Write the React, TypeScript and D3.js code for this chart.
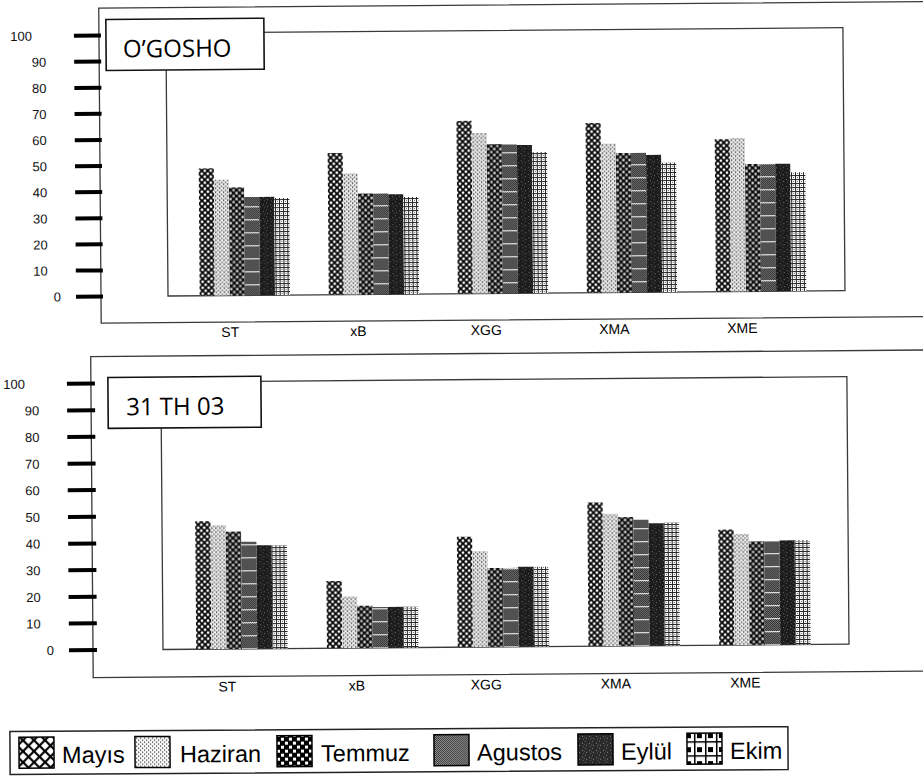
import React from "react";
import * as d3 from "d3";

// ---------- data ----------
const categories = ["ST", "xB", "XGG", "XMA", "XME"];
const seriesNames = ["Mayıs", "Haziran", "Temmuz", "Agustos", "Eylül", "Ekim"];
const yTickValues = [0, 10, 20, 30, 40, 50, 60, 70, 80, 90, 100];

// O'GOSHO panel (values per month, across categories)
const ogMayis = [48.8, 54.3, 66.2, 65.0, 58.4];
const ogHaziran = [44.4, 46.4, 61.5, 57.0, 58.8];
const ogTemmuz = [41.4, 38.7, 57.2, 53.4, 48.8];
const ogAgustos = [37.7, 38.7, 57.0, 53.4, 48.8];
const ogEylul = [37.7, 38.3, 56.8, 52.6, 48.8];
const ogEkim = [37.2, 37.2, 54.0, 49.6, 45.5];

// 31 TH 03 panel
const thMayis = [48.0, 25.2, 41.4, 53.9, 43.3];
const thHaziran = [46.5, 19.4, 36.0, 49.6, 41.7];
const thTemmuz = [44.0, 15.8, 29.6, 48.3, 38.8];
const thAgustos = [40.2, 15.3, 29.6, 47.3, 38.8];
const thEylul = [38.8, 15.3, 30.0, 45.9, 39.1];
const thEkim = [38.8, 15.3, 30.0, 46.2, 39.2];

const ogoshoSeries = [ogMayis, ogHaziran, ogTemmuz, ogAgustos, ogEylul, ogEkim];
const thSeries = [thMayis, thHaziran, thTemmuz, thAgustos, thEylul, thEkim];

// ---------- layout ----------
const ROT = -0.45;
const patternIds = ["pMayis", "pHaziran", "pTemmuz", "pAgustos", "pEylul", "pEkim"];
const legendIds = ["lMayis", "lHaziran", "lTemmuz", "lAgustos", "lEylul", "lEkim"];

const topCfg = {
  title: "O\u2019GOSHO",
  y0: 296, y100: 35,
  innerLeft: 168, innerRight: 845, innerTop: 33,
  outerLeft: 101, outerTop: 7.5, outerBottom: 322.5, outerRight: 940,
  tickX1: 76, tickX2: 103, tickLabelX: 48,
  box: { x: 108, y: 19, w: 158, h: 51 }, titleX: 125, titleY: 57,
  groupRange: [161, 845], labelRange: [230, 742], labelY: 337.5,
};
const botCfg = {
  title: "31 TH 03",
  y0: 649.5, y100: 383,
  innerLeft: 163, innerRight: 849, innerTop: 382,
  outerLeft: 93, outerTop: 356, outerBottom: 677, outerRight: 940,
  tickX1: 69, tickX2: 97, tickLabelX: 41,
  box: { x: 110, y: 377, w: 153, h: 51 }, titleX: 128, titleY: 415,
  groupRange: [157, 850], labelRange: [227, 745], labelY: 692,
};

const legendSwatchX = [19, 135, 277, 434, 578, 687];
const legendTextX = [62, 180, 321, 477, 621, 730];

const FONT = "'Liberation Sans', Arial, sans-serif";

function Patterns() {
  return (
    <defs>
      {/* Mayıs: diagonal lattice */}
      <pattern id="pMayis" width={6} height={6} patternUnits="userSpaceOnUse">
        <rect width={6} height={6} fill="#fff" />
        <path d="M0,0 L6,6 M6,0 L0,6 M-1,5 L1,7 M5,-1 L7,1 M-1,1 L1,-1 M5,7 L7,5" stroke="#000" strokeWidth={1.7} />
      </pattern>
      <pattern id="lMayis" width={11} height={11} patternUnits="userSpaceOnUse" x={1} y={1}>
        <rect width={11} height={11} fill="#fff" />
        <path d="M0,0 L11,11 M11,0 L0,11" stroke="#000" strokeWidth={2.2} />
      </pattern>
      {/* Haziran: light dots */}
      <pattern id="pHaziran" width={4} height={4} patternUnits="userSpaceOnUse">
        <rect width={4} height={4} fill="#f2f2f2" />
        <rect x={0} y={0} width={1.3} height={1.3} fill="#222" />
        <rect x={2} y={2} width={1.3} height={1.3} fill="#555" />
        <rect x={0} y={3} width={4} height={0.5} fill="#bbb" />
      </pattern>
      <pattern id="lHaziran" width={4} height={4} patternUnits="userSpaceOnUse">
        <rect width={4} height={4} fill="#fff" />
        <rect x={0} y={0} width={1.2} height={1.2} fill="#222" />
        <rect x={2} y={2} width={1.2} height={1.2} fill="#222" />
      </pattern>
      {/* Temmuz: coarse checker, dark */}
      <pattern id="pTemmuz" width={6} height={6} patternUnits="userSpaceOnUse">
        <rect width={6} height={6} fill="#111" />
        <rect x={0.5} y={0.5} width={2.2} height={2.2} fill="#fff" />
        <rect x={3.5} y={3.5} width={2.2} height={2.2} fill="#ddd" />
      </pattern>
      <pattern id="lTemmuz" width={8} height={8} patternUnits="userSpaceOnUse">
        <rect width={8} height={8} fill="#000" />
        <rect x={1} y={1} width={3} height={3} fill="#fff" />
        <rect x={5} y={5} width={3} height={3} fill="#fff" />
      </pattern>
      {/* Agustos: fine dense dots with light rows */}
      <pattern id="pAgustos" width={2} height={13} patternUnits="userSpaceOnUse">
        <rect width={2} height={13} fill="#888" />
        <path d="M0,0h1v1h-1z M1,1h1v1h-1z M0,2h1v1h-1z M1,3h1v1h-1z M0,4h1v1h-1z M1,5h1v1h-1z M0,6h1v1h-1z M1,7h1v1h-1z M0,8h1v1h-1z M1,9h1v1h-1z M0,10h1v1h-1z M1,11h1v1h-1z" fill="#1a1a1a" />
        <rect x={0} y={12} width={2} height={1} fill="#fff" />
      </pattern>
      <pattern id="lAgustos" width={2} height={2} patternUnits="userSpaceOnUse">
        <rect width={2} height={2} fill="#bbb" />
        <rect x={0} y={0} width={1} height={1} fill="#111" />
        <rect x={1} y={1} width={1} height={1} fill="#111" />
      </pattern>
      {/* Eylül: dark mottled */}
      <pattern id="pEylul" width={7} height={7} patternUnits="userSpaceOnUse">
        <rect width={7} height={7} fill="#1c1c1c" />
        <rect x={1} y={2} width={1} height={1} fill="#6a6a6a" />
        <rect x={4} y={0} width={1} height={1} fill="#555" />
        <rect x={5} y={4} width={1} height={1} fill="#707070" />
        <rect x={2} y={5} width={1} height={1} fill="#505050" />
        <rect x={3} y={3} width={1} height={1} fill="#3a3a3a" />
      </pattern>
      <pattern id="lEylul" width={7} height={7} patternUnits="userSpaceOnUse">
        <rect width={7} height={7} fill="#2a2a2a" />
        <rect x={1} y={2} width={1} height={1} fill="#888" />
        <rect x={4} y={0} width={1} height={1} fill="#777" />
        <rect x={5} y={4} width={1} height={1} fill="#8a8a8a" />
        <rect x={2} y={5} width={1} height={1} fill="#666" />
        <rect x={3} y={3} width={1} height={1} fill="#555" />
      </pattern>
      {/* Ekim: small grid */}
      <pattern id="pEkim" width={4} height={4} patternUnits="userSpaceOnUse">
        <rect width={4} height={4} fill="#fff" />
        <rect x={0} y={0} width={4} height={1} fill="#222" />
        <rect x={0} y={0} width={1} height={4} fill="#222" />
        <rect x={2} y={2} width={1} height={1} fill="#666" />
      </pattern>
      <pattern id="lEkim" width={11} height={14} patternUnits="userSpaceOnUse" x={1} y={1}>
        <rect width={11} height={14} fill="#fff" />
        <rect x={0} y={0} width={11} height={1.5} fill="#000" />
        <rect x={0} y={0} width={1.5} height={14} fill="#000" />
        <rect x={3} y={6} width={5} height={5} fill="#000" />
      </pattern>
    </defs>
  );
}

function Panel({ cfg, data }: { cfg: any; data: number[][] }) {
  const y = d3.scaleLinear().domain([0, 100]).range([cfg.y0, cfg.y100]);
  const x0 = d3
    .scaleBand<string>()
    .domain(categories)
    .range(cfg.groupRange)
    .paddingInner(0.3)
    .paddingOuter(0.3);
  const x1 = d3.scaleBand<string>().domain(seriesNames).range([0, x0.bandwidth()]);
  const lx = d3.scalePoint<string>().domain(categories).range(cfg.labelRange);
  const frame = "#3a3a3a";
  return (
    <g transform={`rotate(${ROT} ${cfg.innerLeft} ${cfg.y0})`}>
      <path
        d={`M${cfg.outerRight},${cfg.outerTop} H${cfg.outerLeft} V${cfg.outerBottom} H${cfg.outerRight}`}
        fill="none"
        stroke={frame}
        strokeWidth={1.3}
      />
      <rect
        x={cfg.innerLeft}
        y={cfg.innerTop}
        width={cfg.innerRight - cfg.innerLeft}
        height={cfg.y0 - cfg.innerTop}
        fill="none"
        stroke={frame}
        strokeWidth={1.3}
      />
      {categories.map((c, ci) => (
        <g key={c} transform={`translate(${x0(c)},0)`}>
          {seriesNames.map((s, si) => {
            const v = data[si][ci];
            return (
              <rect
                key={s}
                x={x1(s)}
                y={y(v)}
                width={x1.bandwidth()}
                height={y(0) - y(v)}
                fill={`url(#${patternIds[si]})`}
              />
            );
          })}
        </g>
      ))}
      {yTickValues.map((t) => (
        <g key={t}>
          <line x1={cfg.tickX1} x2={cfg.tickX2} y1={y(t)} y2={y(t)} stroke="#000" strokeWidth={4} />
          <text
            x={cfg.tickLabelX + (t === 100 ? -14 : t === 0 ? 13 : 0)}
            y={y(t)}
            dy="0.36em"
            textAnchor="end"
            fontFamily={FONT}
            fontSize={13}
            fill="#111"
          >
            {t}
          </text>
        </g>
      ))}
      <rect
        x={cfg.box.x}
        y={cfg.box.y}
        width={cfg.box.w}
        height={cfg.box.h}
        fill="#fff"
        stroke="#111"
        strokeWidth={1.6}
      />
      <text x={cfg.titleX} y={cfg.titleY} fontFamily="'Open Sans', 'Noto Sans', sans-serif" fontSize={24} fill="#000">
        {cfg.title}
      </text>
      {categories.map((c) => (
        <text key={c} x={lx(c)} y={cfg.labelY} textAnchor="middle" fontFamily={FONT} fontSize={14} fill="#000">
          {c}
        </text>
      ))}
    </g>
  );
}

function Legend() {
  const top = 729;
  const h = 43;
  return (
    <g transform={`rotate(-0.35 400 750)`}>
      <rect x={10} y={top} width={778} height={h} fill="#fff" stroke="#222" strokeWidth={1.5} />
      {seriesNames.map((s, i) => (
        <g key={s}>
          <rect
            x={legendSwatchX[i]}
            y={top + 6}
            width={35}
            height={31}
            fill={`url(#${legendIds[i]})`}
            stroke="#000"
            strokeWidth={1.5}
          />
          <text x={legendTextX[i]} y={top + 32} fontFamily={FONT} fontSize={23.5} fill="#000">
            {s}
          </text>
        </g>
      ))}
    </g>
  );
}

export default function App() {
  return (
    <svg
      width={923}
      height={780}
      viewBox="0 0 923 780"
      style={{ position: "absolute", left: 0, top: 0, display: "block" }}
    >
      <Patterns />
      <rect width={923} height={780} fill="#fff" />
      <Panel cfg={topCfg} data={ogoshoSeries} />
      <Panel cfg={botCfg} data={thSeries} />
      <Legend />
    </svg>
  );
}
